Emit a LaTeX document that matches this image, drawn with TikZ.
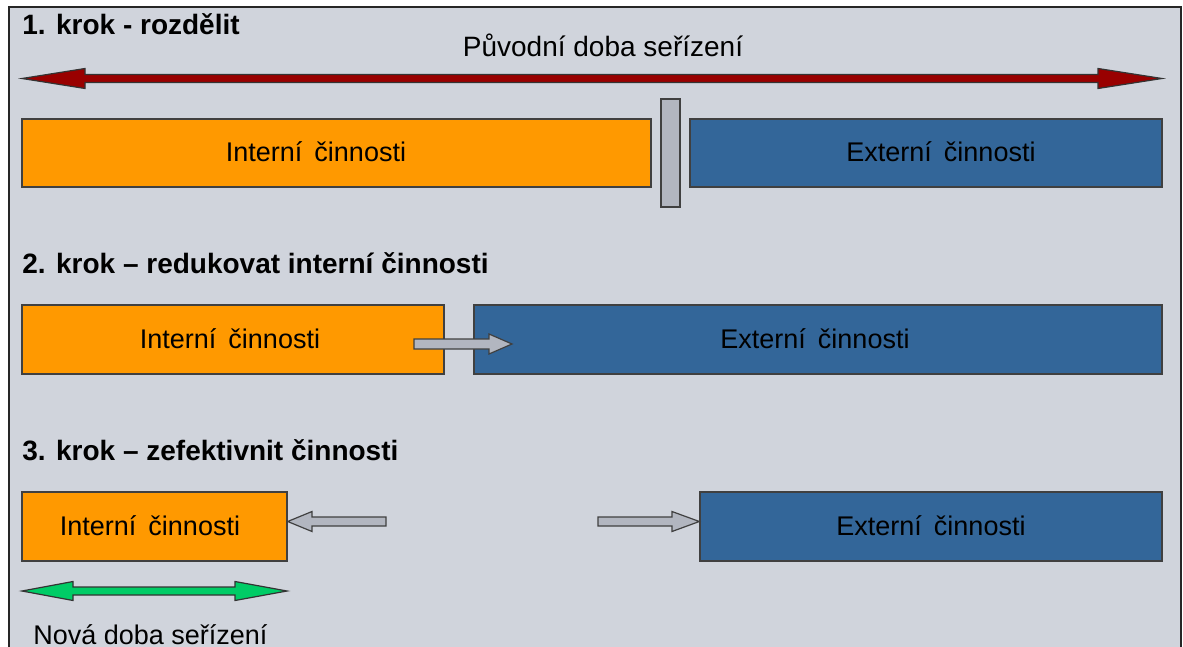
\documentclass[tikz,border=0pt]{standalone}
\usepackage{fontspec}
\setmainfont{Liberation Sans}
\usetikzlibrary{fit}
\definecolor{pozadi}{RGB}{208,212,220}
\definecolor{oranzova}{RGB}{255,153,0}
\definecolor{modra}{RGB}{51,102,153}
\definecolor{seda}{RGB}{178,182,192}
\definecolor{cervena}{RGB}{153,0,0}
\definecolor{zelena}{RGB}{0,204,102}
\tikzset{
  blok/.style={draw=black!75, line width=0.7pt, inner sep=0pt},
  intbox/.style={blok, fill=oranzova},
  extbox/.style={blok, fill=modra},
  krok/.style={anchor=base west, inner sep=0pt, font=\fontsize{14pt}{16pt}\selectfont\bfseries},
  popis/.style={anchor=base, inner sep=0pt, font=\fontsize{14pt}{16pt}\selectfont},
  cinnost/.style={popis, font=\fontsize{13.5pt}{16pt}\selectfont},
  sipka/.style={draw=black!75, line width=0.6pt, fill=seda},
}
\begin{document}
\begin{tikzpicture}[x=0.5pt, y=-0.5pt]
  \useasboundingbox (0,0) rectangle (1183,647);
  \clip (0,0) rectangle (1183,647);
  \fill[white] (0,0) rectangle (1183,647);
  \filldraw[fill=pozadi, draw=black!85, line width=1pt] (9,7) rectangle (1181,700);

  % 1. krok
  \node[krok] (k1) at (22,35) {1. krok - rozdělit};
  \node[popis] (puvodni) at (603,57) {Původní doba seřízení};
  \filldraw[fill=cervena, draw=black!80, line width=0.6pt]
    (22,78.5) -- (85,68.5) -- (85,74.5) -- (1098,74.5) -- (1098,68.5) -- (1162,78.5)
    -- (1098,88.5) -- (1098,82.5) -- (85,82.5) -- (85,88.5) -- cycle;
  \node[intbox, fit={(22,119) (651,187)}] (int1) {};
  \node[blok, fill=seda, fit={(661,99) (680,207)}] (delic) {};
  \node[extbox, fit={(690,119) (1162,187)}] (ext1) {};
  \node[cinnost] at (316,162) {Interní\, činnosti};
  \node[cinnost] at (941,162) {Externí\, činnosti};

  % 2. krok
  \node[krok] (k2) at (22,273) {2. krok – redukovat interní činnosti};
  \node[intbox, fit={(22,305) (444,374)}] (int2) {};
  \node[extbox, fit={(474,305) (1162,374)}] (ext2) {};
  \node[cinnost] at (230,348) {Interní\, činnosti};
  \node[cinnost] at (815,348) {Externí\, činnosti};
  \filldraw[sipka] (414,339) -- (489,339) -- (489,334) -- (512,344) -- (489,354) -- (489,349) -- (414,349) -- cycle;

  % 3. krok
  \node[krok] (k3) at (22,460) {3. krok – zefektivnit činnosti};
  \node[intbox, fit={(22,492) (287,561)}] (int3) {};
  \node[extbox, fit={(700,492) (1162,561)}] (ext3) {};
  \node[cinnost] at (150,535) {Interní\, činnosti};
  \node[cinnost] at (931,535) {Externí\, činnosti};
  \filldraw[sipka] (int3.east |- 0,521.5) -- (312,511.5) -- (312,517) -- (386,517) -- (386,526) -- (312,526) -- (312,531.5) -- cycle;
  \filldraw[sipka] (598,517) -- (672,517) -- (672,511.5) -- (ext3.west |- 0,521.5) -- (672,531.5) -- (672,526) -- (598,526) -- cycle;

  % nova doba
  \filldraw[fill=zelena, draw=black!80, line width=0.6pt]
    (22,591) -- (73,581.5) -- (73,587) -- (235,587) -- (235,581.5) -- (287,591)
    -- (235,600.5) -- (235,595) -- (73,595) -- (73,600.5) -- cycle;
  \node[anchor=base west, inner sep=0pt, font=\fontsize{13.5pt}{16pt}\selectfont] (nova) at (33,644) {Nová doba seřízení};
\end{tikzpicture}
\end{document}
